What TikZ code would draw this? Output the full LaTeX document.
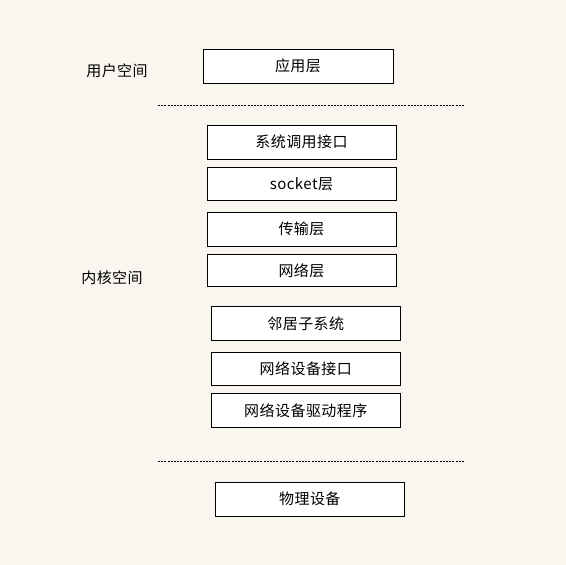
\documentclass[tikz,border=0pt]{standalone}
\usepackage{fontspec}
\setmainfont{Noto Sans CJK SC}[LetterSpace=3]
\definecolor{bg}{RGB}{249,246,239}
\begin{document}
\begin{tikzpicture}[x=1pt,y=-1pt,
  layer/.style={draw=black,fill=white,line width=1pt,inner sep=0pt,
    font=\fontsize{15}{17}\selectfont},
  lbl/.style={inner sep=0pt,font=\fontsize{15}{17}\selectfont},
  sep/.style={line width=1.4pt,dash pattern=on 2pt off 1.2pt}]
\fill[bg] (0,0) rectangle (566,565);
\useasboundingbox (0,0) rectangle (566,565);
\node[lbl] (user) at (117,71) {用户空间};
\node[lbl] (kernel) at (112,278) {内核空间};
\node[layer,minimum width=190pt,minimum height=34pt] (app) at (298,66) {应用层};
\coordinate (d1a) at (158,105.5);
\coordinate (d1b) at (464,105.5);
\draw[sep] (d1a) -- (d1b);
\node[layer,minimum width=189pt,minimum height=33.5pt] (sys) at (301.5,142.3) {系统调用接口};
\node[layer,minimum width=189pt,minimum height=33pt] (sock) at (301.5,183.7) {socket层};
\node[layer,minimum width=189pt,minimum height=33.5pt] (trans) at (301.5,229.3) {传输层};
\node[layer,minimum width=189pt,minimum height=32.5pt] (net) at (301.5,270.7) {网络层};
\node[layer,minimum width=189pt,minimum height=34pt] (neigh) at (305.8,323.3) {邻居子系统};
\node[layer,minimum width=189pt,minimum height=33pt] (ndi) at (305.8,368.8) {网络设备接口};
\node[layer,minimum width=189pt,minimum height=33.5pt] (drv) at (305.8,410.3) {网络设备驱动程序};
\coordinate (d2a) at (158,461.3);
\coordinate (d2b) at (465,461.3);
\draw[sep] (d2a) -- (d2b);
\node[layer,minimum width=189pt,minimum height=34pt] (phy) at (309.8,499.2) {物理设备};
\end{tikzpicture}
\end{document}
